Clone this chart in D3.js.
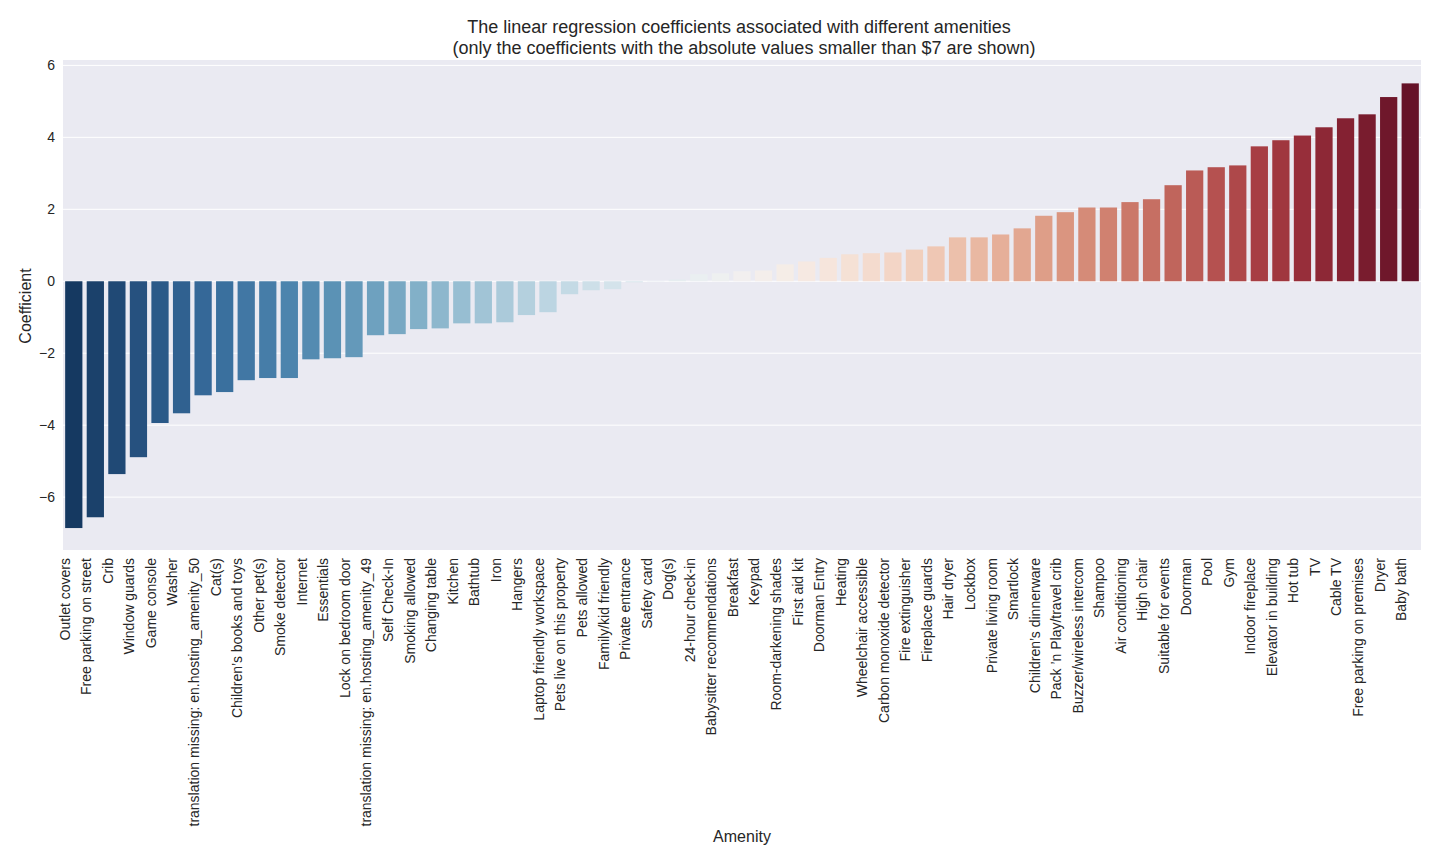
<!DOCTYPE html>
<html><head><meta charset="utf-8">
<script src="https://cdn.jsdelivr.net/npm/d3@7"></script>
<style>body{margin:0;background:#fff;font-family:"Liberation Sans",Arial,sans-serif}</style>
</head><body><svg id="c" width="1440" height="864"></svg>
<script>
const categories=["Outlet covers","Free parking on street","Crib","Window guards","Game console","Washer","translation missing: en.hosting_amenity_50","Cat(s)","Children’s books and toys","Other pet(s)","Smoke detector","Internet","Essentials","Lock on bedroom door","translation missing: en.hosting_amenity_49","Self Check-In","Smoking allowed","Changing table","Kitchen","Bathtub","Iron","Hangers","Laptop friendly workspace","Pets live on this property","Pets allowed","Family/kid friendly","Private entrance","Safety card","Dog(s)","24-hour check-in","Babysitter recommendations","Breakfast","Keypad","Room-darkening shades","First aid kit","Doorman Entry","Heating","Wheelchair accessible","Carbon monoxide detector","Fire extinguisher","Fireplace guards","Hair dryer","Lockbox","Private living room","Smartlock","Children’s dinnerware","Pack ’n Play/travel crib","Buzzer/wireless intercom","Shampoo","Air conditioning","High chair","Suitable for events","Doorman","Pool","Gym","Indoor fireplace","Elevator in building","Hot tub","TV","Cable TV","Free parking on premises","Dryer","Baby bath"];
const values=[-6.86,-6.56,-5.36,-4.89,-3.94,-3.67,-3.17,-3.08,-2.75,-2.69,-2.69,-2.17,-2.14,-2.11,-1.5,-1.47,-1.33,-1.31,-1.17,-1.17,-1.14,-0.94,-0.86,-0.36,-0.25,-0.22,-0.03,0.01,0.05,0.2,0.22,0.28,0.3,0.47,0.55,0.65,0.75,0.78,0.8,0.88,0.97,1.22,1.22,1.3,1.47,1.82,1.92,2.05,2.05,2.2,2.28,2.67,3.08,3.17,3.22,3.75,3.92,4.05,4.28,4.53,4.64,5.12,5.5];
const yTicks=[-6,-4,-2,0,2,4,6];
const svg=d3.select("#c");
const L=63,R=1421,T=60,B=550;
const x=d3.scaleBand().domain(categories).range([L,R]).paddingInner(0.2).paddingOuter(0.1);
const y=d3.scaleLinear().domain([-7.47,6.15]).range([B,T]);
svg.append("rect").attr("x",L).attr("y",T).attr("width",R-L).attr("height",B-T).attr("fill","#eaeaf2");
svg.append("g").selectAll("line").data(yTicks).join("line").attr("x1",L).attr("x2",R).attr("y1",d=>y(d)).attr("y2",d=>y(d)).attr("stroke","#fff").attr("stroke-width",1);
const n=categories.length;
const col=i=>{const h=d3.hsl(d3.interpolateRdBu(1-(i+1)/(n+1)));h.s*=0.75;return h.formatHex();};
svg.append("g").selectAll("rect").data(values).join("rect").attr("x",(d,i)=>x(categories[i])).attr("width",x.bandwidth()).attr("y",d=>y(Math.max(0,d))).attr("height",d=>Math.abs(y(d)-y(0))).attr("fill",(d,i)=>col(i));
const ya=svg.append("g").attr("transform",`translate(${L},0)`).call(d3.axisLeft(y).tickValues(yTicks).tickSize(0).tickPadding(8).tickFormat(d=>d<0?"−"+(-d):d));
ya.select(".domain").remove();ya.selectAll("text").attr("font-size",14).attr("fill","#262626");
const xa=svg.append("g").attr("transform",`translate(-9,${B})`).call(d3.axisBottom(x).tickSize(0).tickPadding(6));
xa.select(".domain").remove();
xa.selectAll("text").attr("font-size",14).attr("fill","#262626").attr("text-anchor","end").attr("dy","0.35em").attr("transform","rotate(-90)").attr("x",-8).attr("y",0);
svg.append("text").attr("x",739).attr("y",33).attr("text-anchor","middle").attr("font-size",18).attr("fill","#262626").text("The linear regression coefficients associated with different amenities");
svg.append("text").attr("x",744).attr("y",54).attr("text-anchor","middle").attr("font-size",18).attr("fill","#262626").text("(only the coefficients with the absolute values smaller than $7 are shown)");
svg.append("text").attr("x",742).attr("y",842).attr("text-anchor","middle").attr("font-size",16).attr("fill","#262626").text("Amenity");
svg.append("text").attr("transform","translate(31,306) rotate(-90)").attr("text-anchor","middle").attr("font-size",16).attr("fill","#262626").text("Coefficient");
</script></body></html>
